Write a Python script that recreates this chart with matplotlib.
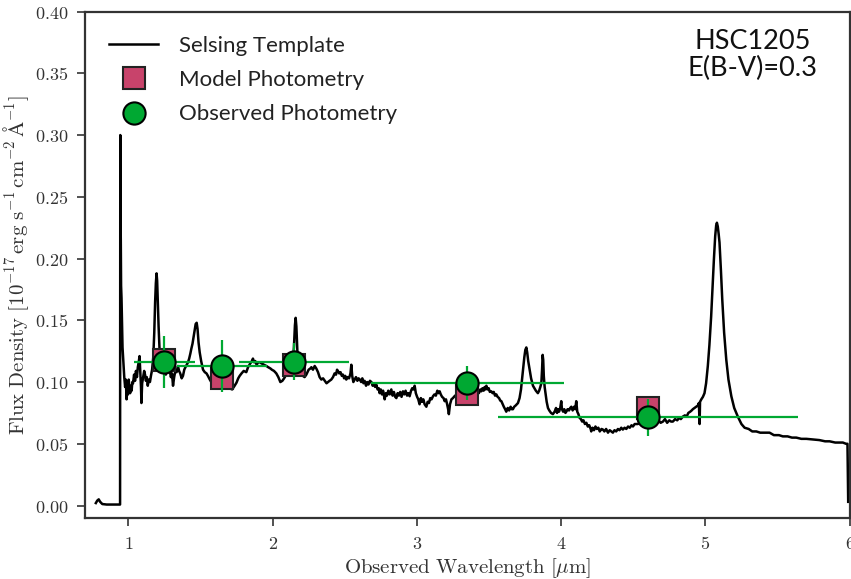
import matplotlib
matplotlib.use("Agg")
import matplotlib.pyplot as plt
from matplotlib.ticker import FuncFormatter, MultipleLocator

plt.rcParams["mathtext.fontset"] = "cm"

# Redshifted quasar template (observed wavelength in micron, flux in 1e-17 erg/s/cm2/A)
wave_um = [
    0.775, 0.785, 0.795, 0.805, 0.82, 0.85, 0.90, 0.943, 0.9445, 0.946, 0.948, 0.950,
    0.953, 0.956, 0.960, 0.965, 0.972, 0.978, 0.983, 0.988, 0.993, 0.998, 1.003, 1.008,
    1.013, 1.018, 1.023, 1.028, 1.033, 1.040, 1.047, 1.053, 1.060, 1.066, 1.072, 1.078,
    1.083, 1.088, 1.091, 1.096, 1.103, 1.110, 1.116, 1.122, 1.128, 1.135, 1.142, 1.150,
    1.157, 1.165, 1.173, 1.180, 1.186, 1.191, 1.196, 1.200, 1.205, 1.210, 1.216, 1.223,
    1.230, 1.240, 1.250, 1.260, 1.270, 1.280, 1.287, 1.295, 1.303, 1.310, 1.318, 1.326,
    1.335, 1.344, 1.352, 1.360, 1.370, 1.379, 1.388, 1.396, 1.405, 1.414, 1.422, 1.430,
    1.437, 1.445, 1.452, 1.460, 1.467, 1.474, 1.480, 1.487, 1.495, 1.505, 1.518, 1.530,
    1.542, 1.552, 1.565, 1.580, 1.600, 1.620, 1.640, 1.660, 1.680, 1.700, 1.720, 1.737,
    1.750, 1.762, 1.772, 1.785, 1.800, 1.818, 1.830, 1.845, 1.857, 1.864, 1.872, 1.880,
    1.890, 1.900, 1.911, 1.925, 1.940, 1.957, 1.970, 1.985, 1.995, 2.010, 2.026, 2.040,
    2.054, 2.068, 2.080, 2.095, 2.110, 2.125, 2.138, 2.148, 2.155, 2.160, 2.165, 2.172,
    2.182, 2.195, 2.210, 2.222, 2.234, 2.250, 2.262, 2.269, 2.280, 2.292, 2.303, 2.315,
    2.326, 2.338, 2.350, 2.362, 2.374, 2.384, 2.395, 2.407, 2.419, 2.430, 2.440, 2.447,
    2.453, 2.462, 2.471, 2.480, 2.488, 2.496, 2.504, 2.511, 2.520, 2.530, 2.540, 2.546,
    2.552, 2.560, 2.569, 2.578, 2.588, 2.596, 2.605, 2.614, 2.622, 2.630, 2.638, 2.648,
    2.656, 2.665, 2.675, 2.685, 2.694, 2.703, 2.711, 2.719, 2.728, 2.736, 2.742, 2.750,
    2.758, 2.766, 2.777, 2.785, 2.793, 2.802, 2.812, 2.823, 2.832, 2.841, 2.850, 2.858,
    2.867, 2.876, 2.885, 2.894, 2.904, 2.913, 2.922, 2.932, 2.941, 2.950, 2.960, 2.968,
    2.976, 2.985, 2.993, 3.002, 3.010, 3.019, 3.028, 3.036, 3.045, 3.054, 3.066, 3.075,
    3.084, 3.093, 3.102, 3.112, 3.122, 3.132, 3.142, 3.150, 3.158, 3.166, 3.175, 3.185,
    3.193, 3.202, 3.210, 3.217, 3.222, 3.230, 3.240, 3.250, 3.265, 3.285, 3.305, 3.330,
    3.355, 3.380, 3.400, 3.420, 3.430, 3.440, 3.447, 3.455, 3.463, 3.470, 3.476, 3.482,
    3.490, 3.498, 3.506, 3.516, 3.525, 3.533, 3.542, 3.551, 3.560, 3.570, 3.578, 3.586,
    3.595, 3.603, 3.612, 3.620, 3.630, 3.640, 3.650, 3.658, 3.666, 3.675, 3.685, 3.693,
    3.701, 3.712, 3.722, 3.730, 3.737, 3.745, 3.752, 3.759, 3.765, 3.772, 3.782, 3.792,
    3.805, 3.815, 3.825, 3.839, 3.848, 3.856, 3.863, 3.868, 3.872, 3.876, 3.880, 3.886,
    3.892, 3.900, 3.909, 3.918, 3.930, 3.943, 3.955, 3.965, 3.972, 3.978, 3.986, 3.994,
    4.001, 4.006, 4.014, 4.022, 4.030, 4.036, 4.045, 4.055, 4.063, 4.071, 4.080, 4.090,
    4.098, 4.105, 4.112, 4.120, 4.128, 4.137, 4.146, 4.155, 4.165, 4.175, 4.185, 4.195,
    4.205, 4.209, 4.218, 4.228, 4.238, 4.248, 4.258, 4.268, 4.280, 4.290, 4.300, 4.312,
    4.325, 4.337, 4.348, 4.359, 4.370, 4.382, 4.394, 4.405, 4.417, 4.428, 4.440, 4.452,
    4.464, 4.476, 4.488, 4.498, 4.510, 4.530, 4.560, 4.590, 4.620, 4.650, 4.675, 4.690,
    4.706, 4.720, 4.735, 4.750, 4.762, 4.775, 4.790, 4.805, 4.818, 4.830, 4.844, 4.858,
    4.870, 4.882, 4.895, 4.905, 4.913, 4.925, 4.937, 4.948, 4.955, 4.960, 4.963, 4.972,
    4.983, 4.994, 5.005, 5.017, 5.028, 5.040, 5.050, 5.059, 5.068, 5.075, 5.080, 5.086,
    5.092, 5.098, 5.108, 5.117, 5.130, 5.145, 5.160, 5.180, 5.200, 5.225, 5.250, 5.272,
    5.300, 5.325, 5.353, 5.380, 5.410, 5.445, 5.475, 5.510, 5.537, 5.570, 5.600, 5.630,
    5.665, 5.700, 5.745, 5.790, 5.830, 5.861, 5.900, 5.930, 5.953, 5.975, 5.985, 5.990,
]
flux = [
    0.002, 0.004, 0.005, 0.003, 0.0012, 0.0008, 0.0008, 0.0008, 0.300, 0.235, 0.215, 0.178,
    0.168, 0.150, 0.128, 0.118, 0.104, 0.096, 0.102, 0.086, 0.094, 0.090, 0.102, 0.095,
    0.091, 0.097, 0.093, 0.100, 0.099, 0.106, 0.101, 0.109, 0.104, 0.112, 0.116, 0.121,
    0.108, 0.096, 0.083, 0.099, 0.104, 0.109, 0.106, 0.101, 0.104, 0.097, 0.102, 0.100,
    0.105, 0.110, 0.120, 0.140, 0.165, 0.180, 0.188, 0.182, 0.162, 0.145, 0.128, 0.117,
    0.113, 0.112, 0.108, 0.106, 0.110, 0.112, 0.110, 0.104, 0.107, 0.097, 0.104, 0.109,
    0.108, 0.113, 0.109, 0.107, 0.103, 0.105, 0.110, 0.112, 0.114, 0.116, 0.119, 0.123,
    0.127, 0.131, 0.136, 0.142, 0.147, 0.148, 0.143, 0.132, 0.124, 0.117, 0.110, 0.108,
    0.107, 0.105, 0.102, 0.099, 0.097, 0.098, 0.099, 0.098, 0.096, 0.095, 0.094, 0.097,
    0.0995, 0.103, 0.105, 0.107, 0.109, 0.108, 0.112, 0.115, 0.117, 0.119, 0.116, 0.117,
    0.114, 0.116, 0.116, 0.115, 0.114, 0.113, 0.112, 0.111, 0.110, 0.109, 0.107, 0.104,
    0.100, 0.101, 0.103, 0.106, 0.108, 0.110, 0.114, 0.128, 0.146, 0.152, 0.145, 0.125,
    0.112, 0.108, 0.105, 0.104, 0.106, 0.110, 0.111, 0.112, 0.110, 0.113, 0.111, 0.108,
    0.104, 0.102, 0.103, 0.101, 0.099, 0.100, 0.101, 0.102, 0.104, 0.107, 0.106, 0.110,
    0.109, 0.107, 0.108, 0.105, 0.106, 0.103, 0.105, 0.102, 0.104, 0.103, 0.107, 0.114,
    0.105, 0.100, 0.102, 0.104, 0.101, 0.103, 0.102, 0.100, 0.103, 0.099, 0.101, 0.097,
    0.100, 0.098, 0.101, 0.100, 0.097, 0.099, 0.096, 0.098, 0.094, 0.095, 0.091, 0.094,
    0.090, 0.093, 0.086, 0.091, 0.089, 0.093, 0.090, 0.094, 0.089, 0.092, 0.088, 0.087,
    0.091, 0.089, 0.092, 0.088, 0.0925, 0.090, 0.093, 0.089, 0.091, 0.0885, 0.093, 0.095,
    0.094, 0.097, 0.091, 0.088, 0.086, 0.082, 0.087, 0.084, 0.086, 0.082, 0.080, 0.084,
    0.083, 0.087, 0.086, 0.0885, 0.090, 0.089, 0.093, 0.091, 0.0925, 0.090, 0.088, 0.087,
    0.0845, 0.086, 0.082, 0.078, 0.074, 0.082, 0.086, 0.087, 0.089, 0.088, 0.087, 0.088,
    0.089, 0.090, 0.091, 0.093, 0.091, 0.094, 0.0925, 0.095, 0.093, 0.096, 0.094, 0.097,
    0.094, 0.095, 0.092, 0.0925, 0.091, 0.092, 0.089, 0.090, 0.088, 0.087, 0.085, 0.0845,
    0.082, 0.080, 0.078, 0.076, 0.079, 0.077, 0.080, 0.078, 0.078, 0.080, 0.081, 0.082,
    0.083, 0.087, 0.094, 0.103, 0.111, 0.120, 0.126, 0.128, 0.124, 0.117, 0.110, 0.103,
    0.097, 0.095, 0.093, 0.091, 0.093, 0.096, 0.099, 0.110, 0.122, 0.118, 0.105, 0.096,
    0.091, 0.084, 0.079, 0.077, 0.075, 0.074, 0.076, 0.079, 0.075, 0.078, 0.076, 0.079,
    0.0845, 0.078, 0.076, 0.078, 0.075, 0.076, 0.078, 0.077, 0.079, 0.080, 0.077, 0.080,
    0.078, 0.0845, 0.076, 0.074, 0.071, 0.070, 0.068, 0.069, 0.066, 0.067, 0.064, 0.065,
    0.062, 0.060, 0.063, 0.061, 0.064, 0.062, 0.063, 0.060, 0.062, 0.0615, 0.060, 0.062,
    0.059, 0.061, 0.060, 0.059, 0.061, 0.060, 0.062, 0.061, 0.063, 0.0615, 0.063, 0.062,
    0.064, 0.063, 0.065, 0.064, 0.066, 0.066, 0.067, 0.068, 0.068, 0.068, 0.069, 0.067,
    0.068, 0.070, 0.067, 0.069, 0.068, 0.068, 0.070, 0.069, 0.071, 0.070, 0.072, 0.073,
    0.072, 0.075, 0.076, 0.077, 0.078, 0.079, 0.080, 0.081, 0.083, 0.066, 0.084, 0.086,
    0.088, 0.091, 0.099, 0.113, 0.130, 0.153, 0.178, 0.199, 0.218, 0.227, 0.229, 0.226,
    0.220, 0.213, 0.190, 0.167, 0.140, 0.118, 0.102, 0.0885, 0.079, 0.072, 0.066, 0.063,
    0.062, 0.060, 0.060, 0.059, 0.059, 0.059, 0.057, 0.057, 0.056, 0.056, 0.055, 0.055,
    0.054, 0.054, 0.0535, 0.053, 0.052, 0.052, 0.051, 0.051, 0.051, 0.050, 0.050, 0.003,
]

# Broad-band photometry: effective wavelength, band half-width
phot_wave = [1.25, 1.65, 2.15, 3.35, 4.60]
phot_halfwidth = [0.21, 0.31, 0.38, 0.67, 1.04]
model_flux = [0.118, 0.1035, 0.1135, 0.090, 0.0788]
obs_flux = [0.116, 0.113, 0.1166, 0.0993, 0.0715]
obs_err = [0.021, 0.021, 0.015, 0.0135, 0.015]

object_name = "HSC1205"
ebv_label = "E(B-V)=0.3"

spine_col = "#333333"
green = "#00A832"
pink = "#C8436B"

fig = plt.figure(figsize=(8.51, 5.79), dpi=100)
ax = fig.add_axes([0.0999, 0.1045, 0.8985, 0.8755])

ax.plot(wave_um, flux, color="black", lw=1.8, zorder=2, label="Selsing Template")
ax.plot(phot_wave, model_flux, "s", ms=16, mfc=pink, mec="#222222", mew=1.5,
        zorder=3, label="Model Photometry", linestyle="none")
ax.errorbar(phot_wave, obs_flux, xerr=phot_halfwidth, yerr=obs_err, fmt="o",
            ms=16, mfc=green, mec="black", mew=1.5, ecolor=green, elinewidth=1.6,
            capsize=0, zorder=4, label="Observed Photometry")

ax.set_xlim(0.7, 6.0)
ax.set_ylim(-0.0105, 0.40)
ax.xaxis.set_major_locator(MultipleLocator(1))
ax.yaxis.set_major_locator(MultipleLocator(0.05))
ax.xaxis.set_major_formatter(FuncFormatter(lambda v, p: r"$%d$" % round(v)))
ax.yaxis.set_major_formatter(FuncFormatter(lambda v, p: r"$%.2f$" % v))

for s in ax.spines.values():
    s.set_color(spine_col)
    s.set_linewidth(1.6)
ax.tick_params(axis="both", direction="out", length=6, width=1.2, color=spine_col,
               labelsize=13, labelcolor=spine_col, pad=6)

ax.set_xlabel(r"$\mathrm{Observed\ Wavelength\ [\mu m]}$", fontsize=15, color=spine_col,
              labelpad=2)
ax.set_ylabel(r"$\mathrm{Flux\ Density\ [10^{-17}\,erg\ s^{-1}\,cm^{-2}\,\AA^{-1}]}$",
              fontsize=15, color=spine_col, labelpad=3)

handles, labels = ax.get_legend_handles_labels()
leg = ax.legend(handles, labels, loc="upper left", frameon=False,
                prop={"family": "Lato", "size": 16}, handlelength=2.2,
                handletextpad=0.95, labelspacing=0.64, borderaxespad=0.7)
for t in leg.get_texts():
    t.set_color("#222222")

ax.text(0.873, 0.965, object_name + "\n" + ebv_label, transform=ax.transAxes,
        ha="center", va="top", fontsize=19.5, family="Lato", color="#111111",
        linespacing=1.1)

fig.savefig("out.png", dpi=100)
